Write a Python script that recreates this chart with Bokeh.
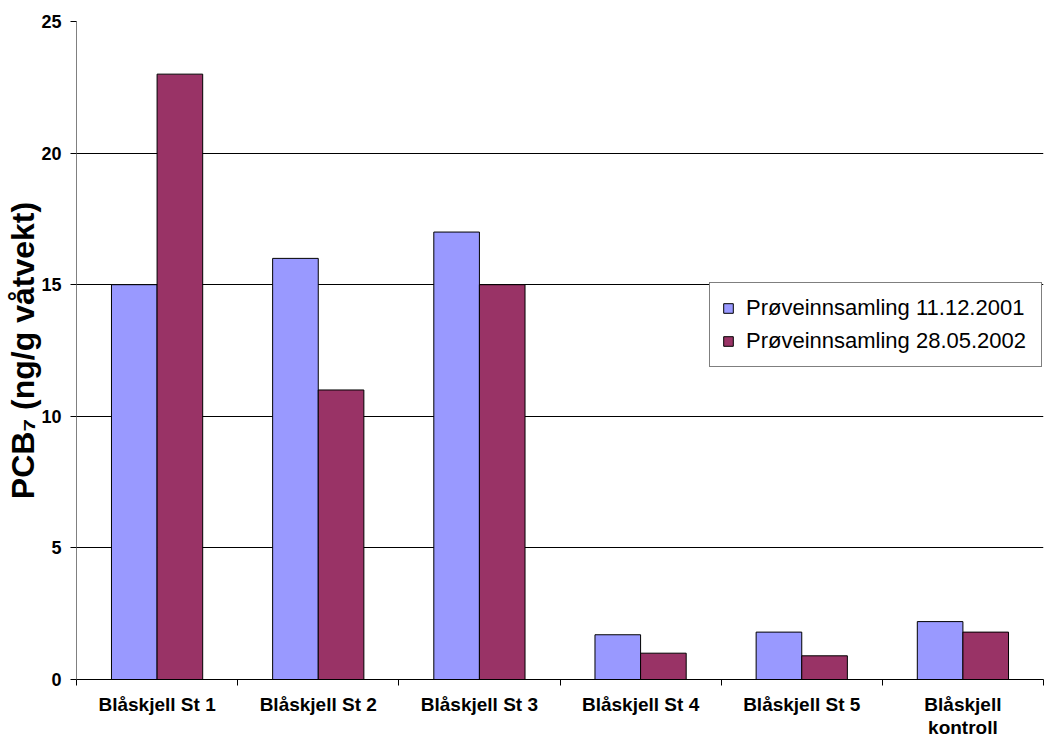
from bokeh.plotting import figure
from bokeh.models import (Range1d, FixedTicker, Legend, LegendItem,
                          ColumnDataSource)
from bokeh.embed import file_html
from bokeh.resources import INLINE

# PCB7 in blue mussels, two sampling rounds
stations = ["Blåskjell St 1", "Blåskjell St 2", "Blåskjell St 3",
            "Blåskjell St 4", "Blåskjell St 5", "Blåskjell\nkontroll"]
series_names = ["Prøveinnsamling 11.12.2001", "Prøveinnsamling 28.05.2002"]
pcb_2001 = [15, 16, 17, 1.7, 1.8, 2.2]
pcb_2002 = [23, 11, 15, 1.0, 0.9, 1.8]
y_ticks = [0, 5, 10, 15, 20, 25]
y_title = "PCB\u2087 (ng/g våtvekt)"

FONT = "Liberation Sans"
BLUE = "#9999FF"
PLUM = "#993366"
BAR_W = 0.283

n = len(stations)
centers = [i + 0.5 for i in range(n)]
boundaries = list(range(n + 1))
Y_MAX = 25

p = figure(width=1044, height=740, output_backend="svg", toolbar_location=None,
           x_range=Range1d(0, n), y_range=Range1d(0, Y_MAX),
           min_border_left=76, min_border_right=1, min_border_top=21,
           min_border_bottom=61, outline_line_color=None,
           background_fill_color="white", border_fill_color="white")

src_a = ColumnDataSource(dict(x=[c - BAR_W / 2 for c in centers], top=pcb_2001))
src_b = ColumnDataSource(dict(x=[c + BAR_W / 2 for c in centers], top=pcb_2002))
r_a = p.vbar(x="x", top="top", bottom=0, width=BAR_W, source=src_a,
             fill_color=BLUE, line_color="black", line_width=1)
r_b = p.vbar(x="x", top="top", bottom=0, width=BAR_W, source=src_b,
             fill_color=PLUM, line_color="black", line_width=1)

# x axis: labels at category centres, tick marks between categories
xa = p.xaxis[0]
xa.ticker = FixedTicker(ticks=centers, minor_ticks=boundaries)
xa.major_label_overrides = {c: s for c, s in zip(centers, stations)}
xa.major_tick_out = 0
xa.major_tick_in = 0
xa.minor_tick_out = 6
xa.minor_tick_in = 0
xa.minor_tick_line_color = "black"
xa.axis_line_color = "black"
xa.major_label_standoff = 8
xa.major_label_text_font = FONT
xa.major_label_text_font_style = "bold"
xa.major_label_text_font_size = "19px"
xa.major_label_text_line_height = 1.1
xa.major_label_text_color = "black"

ya = p.yaxis[0]
ya.ticker = FixedTicker(ticks=y_ticks, minor_ticks=[])
ya.major_tick_out = 6
ya.major_tick_in = 0
ya.major_tick_line_color = "black"
ya.axis_line_color = "#808080"
ya.major_label_standoff = 9
ya.major_label_text_font = FONT
ya.major_label_text_font_style = "bold"
ya.major_label_text_font_size = "18px"
ya.major_label_text_color = "black"
ya.axis_label = y_title
ya.axis_label_text_font = FONT
ya.axis_label_text_font_style = "bold"
ya.axis_label_text_font_size = "32px"
ya.axis_label_text_color = "black"
ya.axis_label_standoff = -3

p.xgrid.visible = False
p.ygrid.ticker = FixedTicker(ticks=y_ticks)
p.ygrid.grid_line_color = "black"
p.ygrid.grid_line_width = 1

legend = Legend(items=[LegendItem(label=series_names[0], renderers=[r_a]),
                       LegendItem(label=series_names[1], renderers=[r_b])],
                location=(633, 312), orientation="vertical",
                border_line_color="black", border_line_width=1,
                background_fill_color="white", background_fill_alpha=1,
                padding=12, spacing=7, margin=0,
                glyph_width=12, glyph_height=12, label_standoff=12,
                label_width=283, label_height=20,
                label_text_font=FONT, label_text_font_size="22px",
                label_text_color="black")
p.add_layout(legend)

open("out.html", "w").write(file_html(p, INLINE))
